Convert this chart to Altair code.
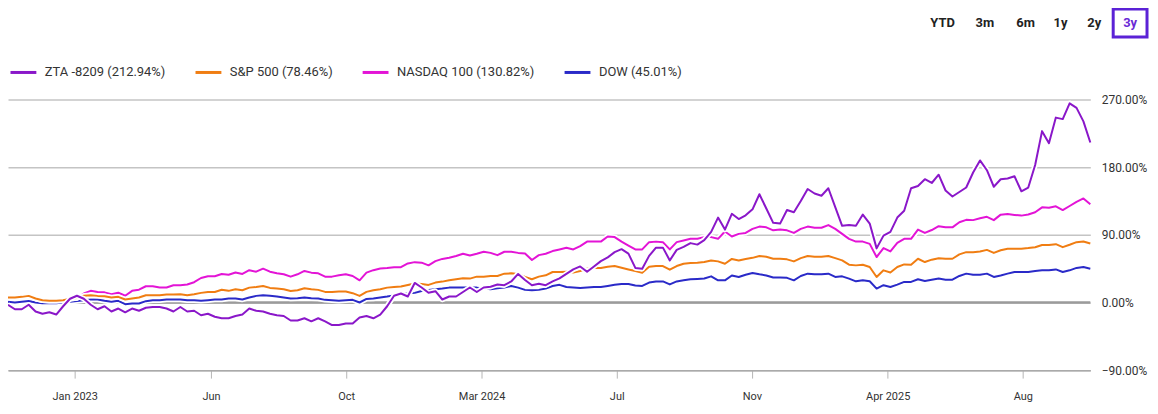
import altair as alt
import pandas as pd

# ---- data (cumulative % return, weekly points) ----
zta = [-3, -9, -9, -3, -12, -15, -13, -16, -5, 5, 9, 5, -3, -9, -5, -12, -8, -13, -8, -11,
       -7, -6, -6, -8, -12, -6, -12, -11, -17, -15, -19, -21, -21, -18, -16, -8, -11, -12, -15, -17,
       -18, -24, -24, -21, -25, -21, -25, -30, -30, -28, -28, -20, -18, -21, -16, -5, 9, 12, 8, 26,
       20, 13, 15, 4, 8, 8, 14, 20, 14, 20, 21, 24, 23, 28, 38, 30, 23, 25, 23, 28,
       32, 38, 44, 48, 41, 48, 55, 60, 67, 71, 65, 46, 45, 62, 73, 73, 56, 70, 74, 79,
       77, 83, 94, 113, 97, 118, 111, 116, 124, 144, 125, 106, 105, 123, 120, 135, 151, 145, 142, 152,
       127, 102, 103, 102, 117, 105, 72, 89, 94, 113, 122, 152, 155, 164, 159, 170, 149, 141, 147, 153,
       173, 189, 176, 154, 164, 165, 168, 148, 153, 183, 228, 212, 246, 244, 265, 259, 241, 212.94]

sp500 = [6.6, 6.6, 7.5, 8.8, 5.3, 3, 2.2, 2.2, 3, 5, 6, 9, 9.7, 8.8, 8.4, 6.6, 7.5, 4, 5.3, 6.6,
         9.7, 9.7, 9.7, 10.6, 10.6, 11, 9.7, 11, 12.8, 14, 14, 17, 15.5, 17.6, 16.3, 19.8, 20.7, 22, 19.4, 18.5,
         17.6, 15.4, 16.3, 19, 17.6, 16.8, 14.1, 14.1, 14.6, 14.6, 12.4, 8.8, 14.1, 16.3, 17.6, 19.8, 20.7, 21.2, 23.4, 25.2,
         24.5, 23.4, 26.5, 27.8, 29.5, 30.9, 32.2, 31.8, 34.4, 34.4, 35.3, 35.3, 38.4, 38.8, 38, 34, 30.9, 34.4, 36.2, 40.6,
         40.6, 41, 40, 42, 45, 46, 46, 47.6, 48.5, 46.3, 44, 41.9, 39.7, 47.6, 48.5, 48.5, 43.7, 48.5, 51.6, 52.5,
         52.9, 53.8, 56, 54.7, 51.6, 58, 56, 58, 59.4, 61.8, 60.8, 58.3, 58.3, 57.4, 54.7, 59, 61.8, 60.8, 60.8, 61.8,
         59, 56, 50.3, 49.4, 50.3, 47.2, 34, 42.8, 40, 47.2, 50.7, 50.3, 58.2, 53.8, 57, 59, 58.2, 58.2, 64, 67,
         67, 67.8, 70, 66, 69.5, 71.5, 71.5, 71.5, 72.4, 73.6, 76.4, 76.4, 77.6, 73.6, 76.8, 80.3, 81.2, 78.46]

nasdaq = [6.6, 6.6, 7.5, 8.8, 5.3, 3, 2.2, 2.2, 3, 5, 6, 12, 15.5, 14, 13.5, 11, 13, 9, 15.5, 17,
          21.6, 21.6, 20, 20, 23, 23, 24, 27, 32.6, 35, 35, 38, 37, 40, 38, 43, 41, 45, 41, 39,
          37.5, 34.4, 37.5, 42, 39.7, 38.8, 34.4, 34.4, 36.2, 37.5, 35.3, 29.5, 39.7, 43, 45.3, 46, 47, 47, 52, 53.7,
          53, 49.4, 55, 58, 59.5, 61.8, 64.8, 62.5, 64.8, 67.5, 66, 63, 67.5, 67.5, 66, 65.3, 56.5, 63, 64.8, 68.4,
          70.6, 72.8, 70.6, 75, 81, 81, 81, 87.8, 87, 81, 75.8, 70.6, 70.6, 80.3, 81, 80.3, 70.6, 80.3, 82.5, 84.7,
          84.7, 87, 87, 84.7, 94.4, 87.8, 91.3, 92.6, 98, 101, 100, 96, 97, 96, 92.6, 98, 101, 99.5, 99.5, 103,
          98, 91.3, 84.7, 81, 81, 78, 60.5, 72.4, 68, 79.4, 84.7, 84.7, 97, 92.6, 96.4, 101.5, 100, 100, 106.8, 110,
          109.6, 112, 114, 109.6, 116.9, 117.6, 116.5, 115.6, 117, 120, 126.6, 126, 128, 123, 128.4, 134, 138.5, 130.82]

dow = [1, 0, 1, 2, 0, -1, -1, -1, 0, 1, 2, 3, 4, 4, 2.2, 0.9, 2.2, -2.2, -1.3, -1.3,
       1.8, 3, 3, 4, 4, 4, 3, 3, 2.2, 3, 4, 4, 5.3, 5.3, 4, 6.6, 8.8, 9.7, 9, 8,
       6.6, 5.3, 5.7, 6.6, 5.7, 5.3, 3.5, 3.1, 2.2, 3.1, 3.5, 0, 4.8, 5.3, 6.6, 7.9, 9.5, 11, 12, 12.8,
       15.4, 16.8, 17.5, 18.5, 19.8, 19.8, 19.8, 19.8, 19.8, 18.5, 17.6, 19, 19.8, 22, 19.8, 16.8, 16.3, 16.8, 18.5, 22,
       23.5, 20.7, 20, 19.4, 20, 20.7, 20.7, 22, 23.5, 24.7, 24.7, 22.5, 22, 26.5, 28, 28, 24, 28, 29.5, 30.8,
       31.4, 32, 34.8, 29.5, 29.5, 36, 34, 37, 39.3, 37.5, 36, 33.2, 33.2, 32.8, 29.5, 35.3, 38.4, 37.5, 37.5, 38.4,
       34, 34.8, 31.8, 28.2, 29.5, 28.2, 18.5, 23, 20.7, 23.8, 27.4, 27.4, 30.9, 28.7, 30.4, 31.8, 30.4, 30.4, 35.3, 38.4,
       37, 37, 38.4, 34, 36, 38.4, 40.6, 40.6, 40.6, 42, 42.8, 42.8, 44, 40.6, 42.8, 46, 47.3, 45.01]

series_names = ["ZTA -8209", "S&P 500", "NASDAQ 100", "DOW"]
series_values = [zta, sp500, nasdaq, dow]
series_colors = ["#8a17c9", "#f07d12", "#e314d6", "#2a2ac8"]

tick_labels = ["Jan 2023", "Jun", "Oct", "Mar 2024", "Jul", "Nov", "Apr 2025", "Aug"]
tick_pos = [9.67, 29.44, 49.06, 68.7, 88.3, 107.9, 127.6, 147.2]
y_ticks = [-90, 0, 90, 180, 270]
range_buttons = ["YTD", "3m", "6m", "1y", "2y", "3y"]

# ---- long table ----
N = len(zta)
labels = [f"{n} ({v[-1]:.2f}%)" for n, v in zip(series_names, series_values)]
rows = []
for lab, vals in zip(labels, series_values):
    for i, v in enumerate(vals):
        rows.append({"i": i, "v": v, "s": lab})
df = pd.DataFrame(rows)

FONT = "Roboto"

label_expr = ("[" + ",".join(f"'{t}'" for t in tick_labels) + "][indexof(["
              + ",".join(str(p) for p in tick_pos) + "], datum.value)]")

x_enc = alt.X(
    "i:Q",
    scale=alt.Scale(domain=[0, N - 1], nice=False, zero=False),
    axis=alt.Axis(values=tick_pos, labelExpr=label_expr, grid=False, title=None,
                  domainColor="#aaaaaa", domainWidth=1.5, tickColor="#b5b5b5",
                  tickSize=8, tickWidth=1, labelPadding=13, labelFontSize=11,
                  labelColor="#333333", labelFont=FONT),
)
y_enc = alt.Y(
    "v:Q",
    scale=alt.Scale(domain=[-90, 270], nice=False, zero=False),
    axis=alt.Axis(orient="right", values=y_ticks,
                  labelExpr="format(datum.value, '.2f') + '%'",
                  grid=True, gridColor="#c4c4c4", gridWidth=1.5,
                  domain=False, ticks=False, tickSize=0, labelPadding=11,
                  labelFontSize=12, labelColor="#333333", labelFont=FONT, title=None),
)
color_enc = alt.Color(
    "s:N",
    scale=alt.Scale(domain=labels, range=series_colors),
    legend=alt.Legend(orient="none", legendX=1, legendY=-42, direction="horizontal",
                      title=None, symbolType="stroke", symbolStrokeWidth=3,
                      symbolSize=676, labelFont=FONT, labelFontSize=13,
                      labelColor="#333333", columnPadding=23, labelOffset=7, padding=0),
)

zero_rule = alt.Chart(pd.DataFrame({"v": [0]})).mark_rule(
    color="#9b9b9b", strokeWidth=2.5).encode(y=y_enc)

layers = [zero_rule]
# draw order bottom -> top: DOW, NASDAQ, S&P, ZTA
for k in [3, 2, 1, 0]:
    sub = alt.Chart(df).transform_filter(alt.datum.s == labels[k])
    halo = sub.mark_line(color="white", strokeWidth=5.5, strokeJoin="round").encode(
        x=x_enc, y=y_enc, detail="s:N")
    line = sub.mark_line(strokeWidth=2, strokeJoin="round").encode(
        x=x_enc, y=y_enc, color=color_enc)
    layers += [halo, line]

# range selector buttons (page chrome above the plot)
btn_x = [939.5, 982, 1023, 1058, 1092, 1128]
for t, bx in zip(range_buttons, btn_x):
    layers.append(
        alt.Chart(pd.DataFrame({"t": [t]})).mark_text(
            font=FONT, fontSize=13, fontWeight="bold",
            color="#6a2ad6" if t == "3y" else "#222222", align="center", baseline="middle"
        ).encode(text="t:N", x=alt.value(bx), y=alt.value(-77))
    )
layers.append(
    alt.Chart(pd.DataFrame({"t": ["3y"]})).mark_rect(
        fillOpacity=0, stroke="#5b22d6", strokeWidth=3
    ).encode(x=alt.value(1111), x2=alt.value(1145), y=alt.value(-91), y2=alt.value(-63))
)

chart = alt.layer(*layers).properties(
    width=1088, height=272, autosize="none",
    padding={"left": 0, "top": 91, "right": 60, "bottom": 35},
    background="white",
).configure_view(stroke=None)

chart.save("out.html", embed_options={"renderer": "svg", "actions": False})
